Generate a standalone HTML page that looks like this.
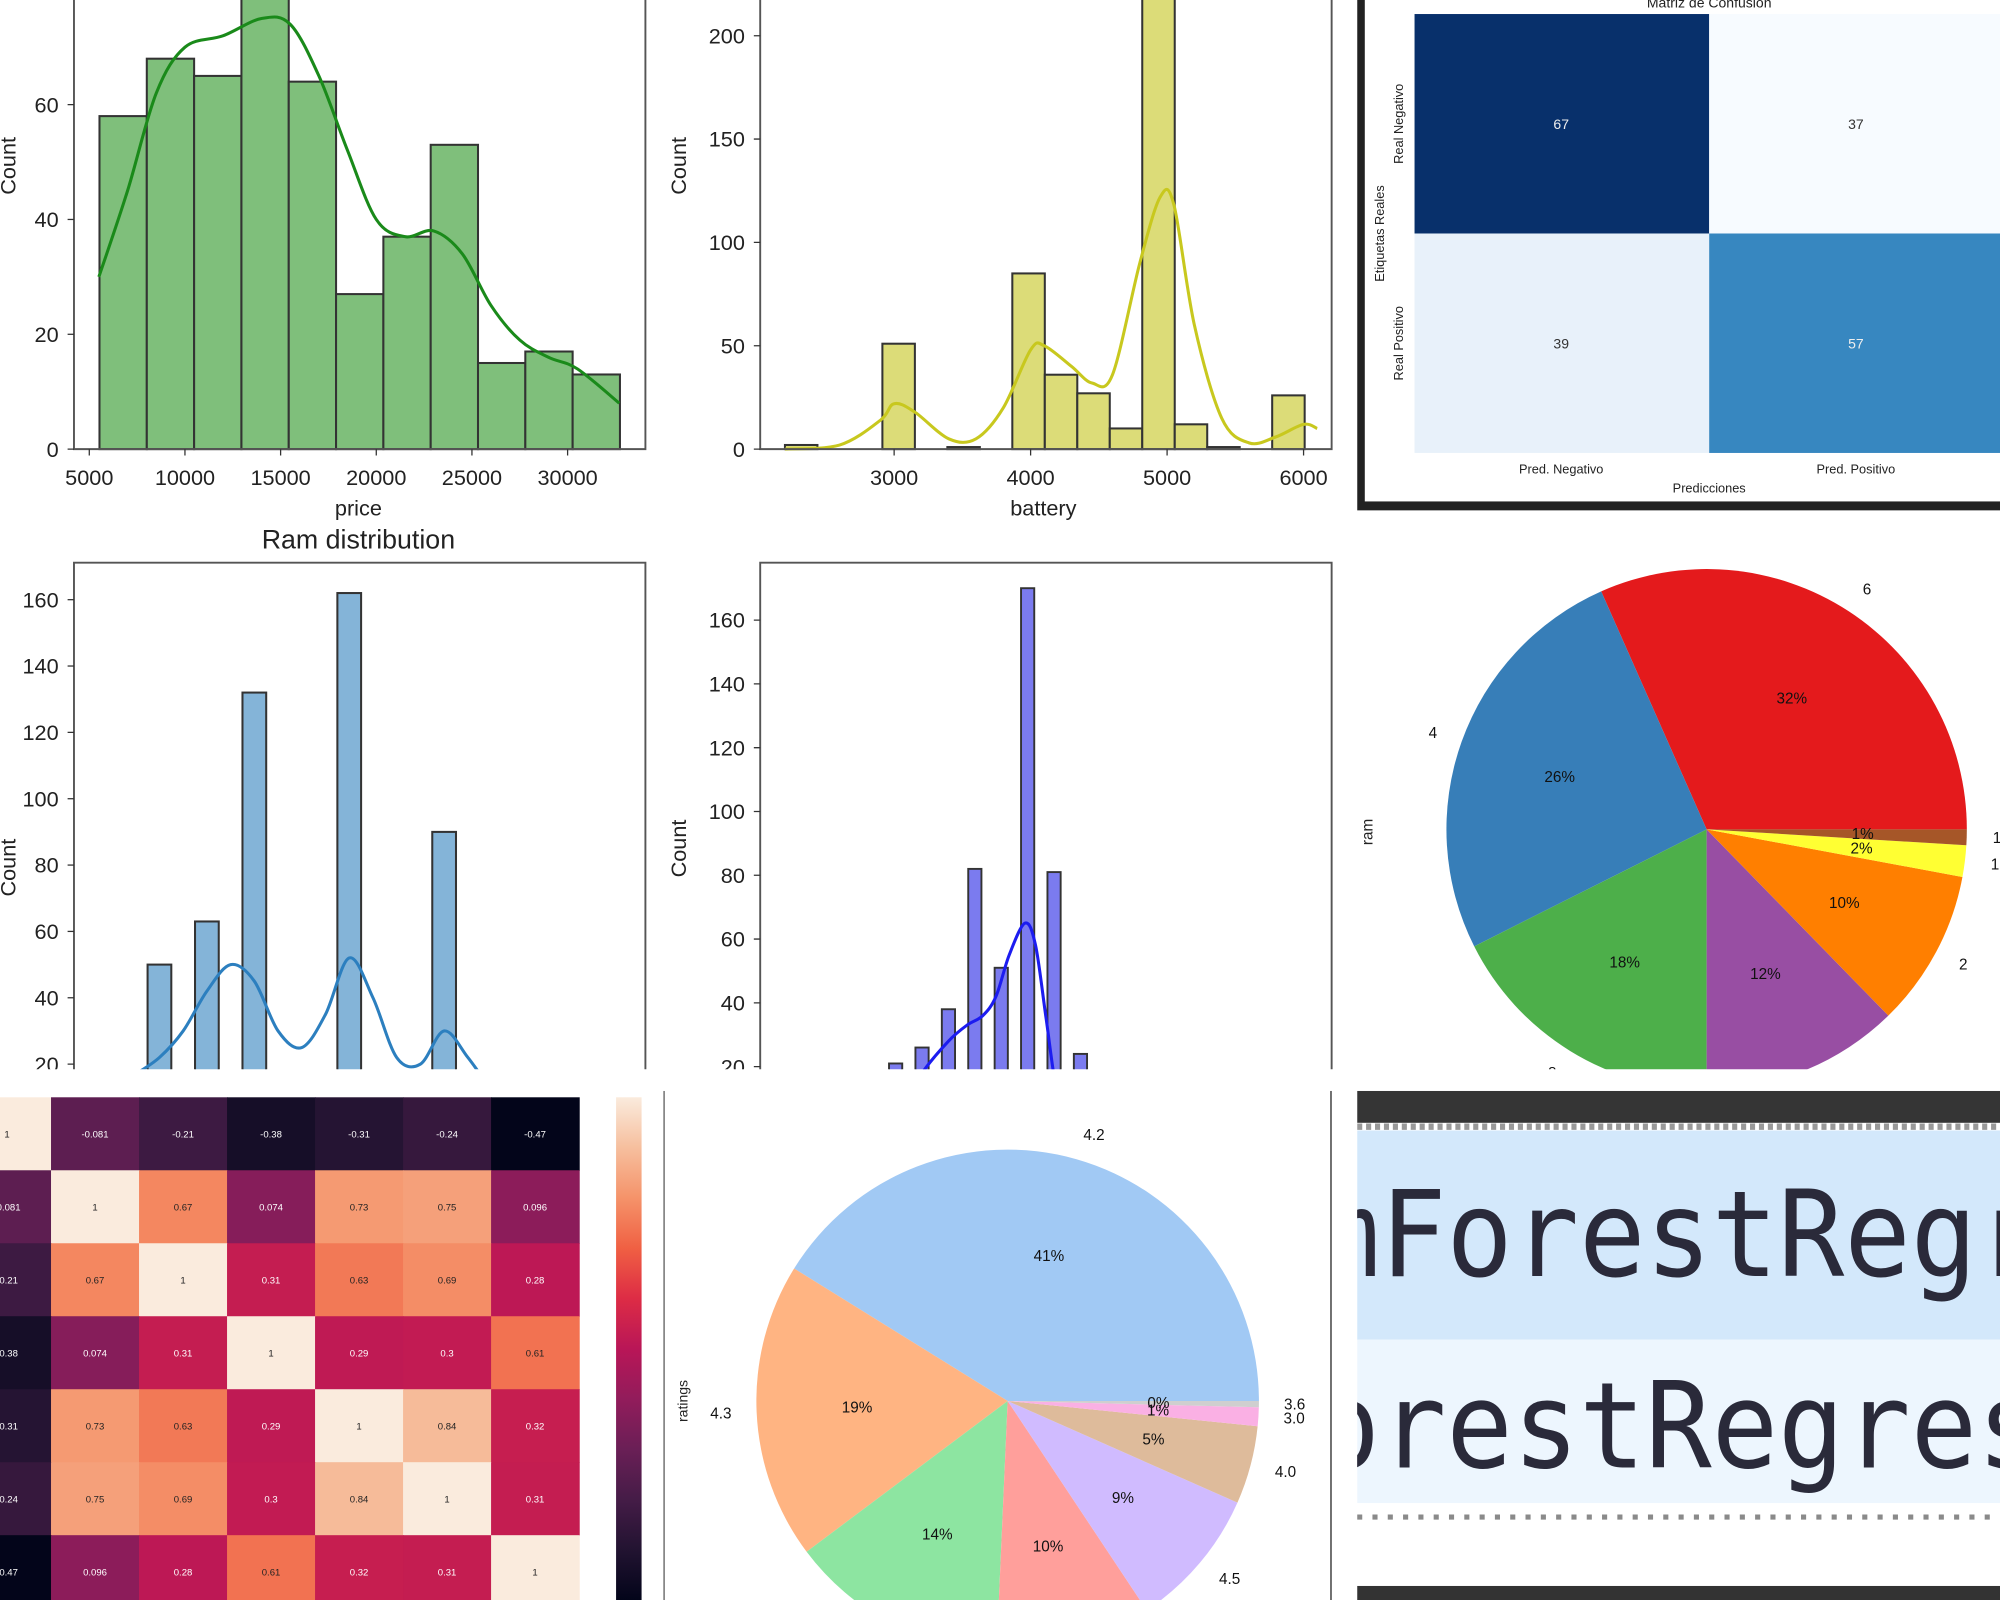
<!DOCTYPE html>
<html><head><meta charset="utf-8"><style>
html,body{margin:0;padding:0;background:#fff;width:2000px;height:1600px;overflow:hidden}
svg{display:block;font-family:"Liberation Sans","DejaVu Sans",sans-serif}
</style></head><body>
<svg id="s" width="2000" height="1600" viewBox="0 0 1568 1254" preserveAspectRatio="none" xmlns="http://www.w3.org/2000/svg">
<defs>
<clipPath id="c1"><rect x="0" y="0" width="522" height="838"/></clipPath>
<clipPath id="c2"><rect x="522" y="0" width="538" height="838"/></clipPath>
<clipPath id="c3"><rect x="1064" y="0" width="504" height="838"/></clipPath>
<clipPath id="c7"><rect x="0" y="855" width="521" height="399"/></clipPath>
<clipPath id="c8"><rect x="522" y="855" width="522" height="399"/></clipPath>
<clipPath id="c9"><rect x="1064" y="855" width="504" height="399"/></clipPath>
<linearGradient id="cbg" x1="0" y1="1" x2="0" y2="0"></linearGradient>
</defs>
<g id="root"></g>
</svg>
<script>
// ---- data ----
const priceBins=[5533,8006,10479,12952,15425,17898,20371,22844,25317,27790,30263];
const priceCounts=[58,68,65,80,64,27,37,53,15,17,13];
const priceBinWidth=2473;
const priceKdeX=[5500,7000,8500,10000,12000,14000,15500,17000,18500,20000,21500,23000,24500,26000,27500,29000,30500,32700];
const priceKdeY=[30,45,62,70,72,75,74,65,52,40,37,38,34,25,19,16,14,8];
const priceTicks=[5000,10000,15000,20000,25000,30000];
const priceYTicks=[0,20,40,60];

const batBinStart=2200, batBinWidth=238;
const batCounts=[2,0,0,51,0,1,0,85,36,27,10,220,12,1,0,26];
const batKdeX=[2200,2600,2900,3000,3150,3400,3600,3800,4000,4100,4300,4450,4600,4800,4950,5050,5200,5400,5600,5800,6000,6100];
const batKdeY=[0,2,14,22,18,5,5,20,48,50,40,32,36,90,122,118,60,15,3,6,12,10];
const batTicks=[3000,4000,5000,6000];
const batYTicks=[0,50,100,150,200];

const confValues=[[67,37],[39,57]];
const confColors=[["#08306b","#f7fbff"],["#e8f1fa","#3787c0"]];
const confXLabels=["Pred. Negativo","Pred. Positivo"];
const confYLabels=["Real Negativo","Real Positivo"];

const ramValues=[1,2,3,4,6,8,12];
const ramCounts=[5,50,63,132,162,90,10];
const ramKdeX=[1.5,2,2.5,3,3.5,4,4.5,5,5.5,6,6.5,7,7.5,8,8.5,9];
const ramKdeY=[17,22,30,42,50,45,30,25,35,52,40,22,20,30,22,12];
const ramYTicks=[20,40,60,80,100,120,140,160];

const p5Counts=[21,26,38,82,51,170,81,24];
const p5KdeX=[0,0.5,1,2,2.7,3.3,3.8,4.3,4.9,5.3,5.7,6.1,6.5];
const p5KdeY=[2,10,18,28,33,36,42,55,65,58,35,12,2];
const p5YTicks=[20,40,60,80,100,120,140,160];

const ramPieLabels=["6","4","8","3","2","12","1"];
const ramPieVals=[162,132,90,63,50,10,5];
const ramPieColors=["#e41a1c","#377eb8","#4daf4a","#984ea3","#ff7f00","#ffff33","#a65628"];

const corr=[
[1,-0.081,-0.21,-0.38,-0.31,-0.24,-0.47],
[-0.081,1,0.67,0.074,0.73,0.75,0.096],
[-0.21,0.67,1,0.31,0.63,0.69,0.28],
[-0.38,0.074,0.31,1,0.29,0.3,0.61],
[-0.31,0.73,0.63,0.29,1,0.84,0.32],
[-0.24,0.75,0.69,0.3,0.84,1,0.31],
[-0.47,0.096,0.28,0.61,0.32,0.31,1]];

const ratLabels=["4.2","4.3","4.1","4.4","4.5","4.0","3.0","3.6"];
const ratVals=[41,19,14,10,9,5,1.2,0.4];
const ratColors=["#a1c9f4","#ffb482","#8de5a1","#ff9f9b","#d0bbff","#debb9b","#fab0e4","#cfcfcf"];

// ---- helpers ----
const NS="http://www.w3.org/2000/svg";
const root=document.getElementById('root');
function mk(tag,attrs,parent,txt){const e=document.createElementNS(NS,tag);for(const k in attrs)e.setAttribute(k,attrs[k]);if(txt!==undefined)e.textContent=txt;(parent||root).appendChild(e);return e;}
function lin(d0,d1,r0,r1){return v=>r0+(v-d0)/(d1-d0)*(r1-r0);}
function grp(name,clip){const g=mk('g',clip?{'clip-path':'url(#'+clip+')'}:{});return g;}
function txt(g,x,y,s,size,name,extra){const t=mk('text',Object.assign({x:x,y:y,'font-size':size,fill:'#222'},extra||{}),g,s);return t;}
function pathLine(xs,ys,sx,sy){
const p=xs.map((v,i)=>[sx(v),sy(ys[i])]);let d='M'+p[0][0].toFixed(1)+','+p[0][1].toFixed(1);
for(let i=0;i<p.length-1;i++){const p0=p[Math.max(0,i-1)],p1=p[i],p2=p[i+1],p3=p[Math.min(p.length-1,i+2)];
const c1=[p1[0]+(p2[0]-p0[0])/6,p1[1]+(p2[1]-p0[1])/6],c2=[p2[0]-(p3[0]-p1[0])/6,p2[1]-(p3[1]-p1[1])/6];
d+='C'+c1[0].toFixed(1)+','+c1[1].toFixed(1)+' '+c2[0].toFixed(1)+','+c2[1].toFixed(1)+' '+p2[0].toFixed(1)+','+p2[1].toFixed(1);}
return d;}

// ---- panel 1: price ----
(function(){
const g=grp('price-histogram','c1');
const sx=lin(5000,10000,70,145), sy=lin(0,20,352,262);
priceBins.forEach((b,i)=>{const r=mk('rect',{x:sx(b),y:sy(priceCounts[i]),width:sx(b+priceBinWidth)-sx(b),height:sy(0)-sy(priceCounts[i]),fill:'#7fbf7b',stroke:'#333','stroke-width':1.6},g);});
const k=mk('path',{d:pathLine(priceKdeX,priceKdeY,sx,sy),fill:'none',stroke:'#1a8a1a','stroke-width':2.4},g);
mk('path',{d:'M58,-5V352H506V-5',fill:'none',stroke:'#555','stroke-width':1.5},g);
priceTicks.forEach(t=>{mk('line',{x1:sx(t),x2:sx(t),y1:352,y2:357,stroke:'#333'},g);txt(g,sx(t),380,t,17,'price-x-tick',{'text-anchor':'middle'});});
priceYTicks.forEach(t=>{mk('line',{x1:53,x2:58,y1:sy(t),y2:sy(t),stroke:'#333'},g);txt(g,46,sy(t)+6,t,17,'price-y-tick',{'text-anchor':'end'});});
txt(g,281,404,'price',17,'price-x-axis-title',{'text-anchor':'middle'});
txt(g,12,130,'Count',17,'price-y-axis-title',{'text-anchor':'middle',transform:'rotate(-90 12 130)'});
})();

// ---- panel 2: battery ----
(function(){
const g=grp('battery-histogram','c2');
const sx=lin(3000,4000,701,808), sy=lin(0,50,352,271);
batCounts.forEach((c,i)=>{if(c<=0)return;const b=batBinStart+i*batBinWidth;const r=mk('rect',{x:sx(b),y:sy(c),width:sx(b+batBinWidth)-sx(b),height:sy(0)-sy(c),fill:'#dcdc78',stroke:'#333','stroke-width':1.6},g);});
const k=mk('path',{d:pathLine(batKdeX,batKdeY,sx,sy),fill:'none',stroke:'#c8c81e','stroke-width':2.4},g);
mk('path',{d:'M596,-5V352H1044V-5',fill:'none',stroke:'#555','stroke-width':1.5},g);
batTicks.forEach(t=>{mk('line',{x1:sx(t),x2:sx(t),y1:352,y2:357,stroke:'#333'},g);txt(g,sx(t),380,t,17,'battery-x-tick',{'text-anchor':'middle'});});
batYTicks.forEach(t=>{mk('line',{x1:591,x2:596,y1:sy(t),y2:sy(t),stroke:'#333'},g);txt(g,584,sy(t)+6,t,17,'battery-y-tick',{'text-anchor':'end'});});
txt(g,818,404,'battery',17,'battery-x-axis-title',{'text-anchor':'middle'});
txt(g,538,130,'Count',17,'battery-y-axis-title',{'text-anchor':'middle',transform:'rotate(-90 538 130)'});
})();

// ---- panel 3: confusion matrix ----
(function(){
const g=grp('confusion-matrix','c3');
mk('rect',{x:1064,y:0,width:504,height:400,fill:'#222'},g);
mk('rect',{x:1070,y:0,width:498,height:393,fill:'#fff'},g);
const cx=[1109,1340], cy=[11,183], w=231, h=172;
confValues.forEach((row,i)=>row.forEach((v,j)=>{const r=mk('rect',{x:cx[j],y:cy[i],width:w,height:h,fill:confColors[i][j]},g);
txt(g,cx[j]+115,cy[i]+90,v,11,'confusion-value',{'text-anchor':'middle',fill:(v>50?'#eee':'#333')});}));
txt(g,1340,6,'Matriz de Confusión',11,'confusion-title',{'text-anchor':'middle'});
confXLabels.forEach((l,j)=>txt(g,cx[j]+115,371,l,10,'confusion-x-label',{'text-anchor':'middle'}));
confYLabels.forEach((l,i)=>txt(g,1100,cy[i]+86,l,10,'confusion-y-label',{'text-anchor':'middle',transform:'rotate(-90 1100 '+(cy[i]+86)+')'}));
txt(g,1340,386,'Predicciones',10,'confusion-x-axis-title',{'text-anchor':'middle'});
txt(g,1085,183,'Etiquetas Reales',10,'confusion-y-axis-title',{'text-anchor':'middle',transform:'rotate(-90 1085 183)'});
})();

// ---- panel 4: ram distribution ----
(function(){
const g=grp('ram-histogram','c1');
const sx=lin(2,3,125,162.2), sy=lin(20,40,834,782);
ramValues.forEach((v,i)=>{const c=ramCounts[i];const r=mk('rect',{x:sx(v-0.25),y:sy(c),width:sx(v+0.25)-sx(v-0.25),height:sy(0)-sy(c),fill:'#84b4d8',stroke:'#333','stroke-width':1.6},g);});
const k=mk('path',{d:pathLine(ramKdeX,ramKdeY,sx,sy),fill:'none',stroke:'#2c7fbf','stroke-width':2.4},g);
mk('path',{d:'M58,900V441H506V900',fill:'none',stroke:'#555','stroke-width':1.5},g);
ramYTicks.forEach(t=>{mk('line',{x1:53,x2:58,y1:sy(t),y2:sy(t),stroke:'#333'},g);txt(g,46,sy(t)+6,t,17,'ram-y-tick',{'text-anchor':'end'});});
txt(g,281,430,'Ram distribution',21,'ram-chart-title',{'text-anchor':'middle'});
txt(g,12,680,'Count',17,'ram-y-axis-title',{'text-anchor':'middle',transform:'rotate(-90 12 680)'});
})();

// ---- panel 5 ----
(function(){
const g=grp('blue-histogram','c2');
const sx=lin(0,1,697,717.7), sy=lin(20,40,836,786);
p5Counts.forEach((c,i)=>{const r=mk('rect',{x:sx(i),y:sy(c),width:sx(i+0.5)-sx(i),height:sy(0)-sy(c),fill:'#7b7bef',stroke:'#333','stroke-width':1.5},g);});
const k=mk('path',{d:pathLine(p5KdeX,p5KdeY,v=>sx(v+0.25),sy),fill:'none',stroke:'#1c1cf0','stroke-width':2.4},g);
mk('path',{d:'M596,900V441H1044V900',fill:'none',stroke:'#555','stroke-width':1.5},g);
p5YTicks.forEach(t=>{mk('line',{x1:591,x2:596,y1:sy(t),y2:sy(t),stroke:'#333'},g);txt(g,584,sy(t)+6,t,17,'blue-y-tick',{'text-anchor':'end'});});
txt(g,538,665,'Count',17,'blue-y-axis-title',{'text-anchor':'middle',transform:'rotate(-90 538 665)'});
})();

// ---- pie helper ----
function pie(g,cx,cy,r,vals,labels,colors,name,pfs,lfs){
const tot=vals.reduce((a,b)=>a+b,0);let a0=0;
vals.forEach((v,i)=>{const a1=a0+v/tot*2*Math.PI;const large=(a1-a0)>Math.PI?1:0;
const x0=cx+r*Math.cos(a0),y0=cy-r*Math.sin(a0),x1=cx+r*Math.cos(a1),y1=cy-r*Math.sin(a1);
const p=mk('path',{d:`M${cx},${cy}L${x0},${y0}A${r},${r} 0 ${large} 0 ${x1},${y1}Z`,fill:colors[i]},g);
const am=(a0+a1)/2;
txt(g,cx+0.6*r*Math.cos(am),cy-0.6*r*Math.sin(am)+4,Math.round(v/tot*100)+'%',pfs,name+'-pct',{'text-anchor':'middle',fill:'#111'});
const lx=cx+1.1*r*Math.cos(am),ly=cy-1.1*r*Math.sin(am)+4;
txt(g,lx,ly,labels[i],lfs,name+'-label',{'text-anchor':Math.cos(am)>=0?'start':'end',fill:'#111'});
a0=a1;});
}
(function(){const g=grp('ram-pie-chart','c3');pie(g,1338,650,204,ramPieVals,ramPieLabels,ramPieColors,'ram-pie',12,12);
txt(g,1076,652,'ram',12,'ram-pie-y-title',{'text-anchor':'middle',transform:'rotate(-90 1076 652)'});})();

// ---- panel 7: correlation heatmap ----
(function(){
const g=grp('correlation-heatmap','c7');
const stops=['#03051a','#221331','#451c47','#6a1f56','#921c5b','#b91657','#dd2c45','#f06043','#f5936a','#f6bf9e','#faebdd'];
function hx(c){return [1,3,5].map(i=>parseInt(c.substr(i,2),16));}
function rocket(t){t=Math.max(0,Math.min(1,t));const f=t*10,i=Math.min(9,Math.floor(f)),u=f-i;const a=hx(stops[i]),b=hx(stops[i+1]);return 'rgb('+a.map((v,k)=>Math.round(v+(b[k]-v)*u)).join(',')+')';}
const vmin=-0.47,vmax=1,cw=69,ch=57.2,x0=-29,y0=860;
corr.forEach((row,i)=>row.forEach((v,j)=>{const t=(v-vmin)/(vmax-vmin);const r=mk('rect',{x:x0+j*cw,y:y0+i*ch,width:cw+0.5,height:ch+0.5,fill:rocket(t)},g);
txt(g,x0+j*cw+cw/2,y0+i*ch+ch/2+3,v,7.5,'corr-value',{'text-anchor':'middle',fill:t>0.6?'#222':'#fff'});}));
const lg=document.getElementById('cbg');stops.forEach((c,i)=>mk('stop',{offset:i/10,'stop-color':c},lg));
const cb=mk('rect',{x:483,y:860,width:20,height:394,fill:'url(#cbg)'},g);
mk('line',{x1:521,x2:521,y1:855,y2:1254,stroke:'#222','stroke-width':1.5},g);
})();

// ---- panel 8: ratings pie ----
(function(){const g=grp('ratings-pie-chart','c8');pie(g,790,1098,197,ratVals,ratLabels,ratColors,'ratings-pie',12,12);
txt(g,539,1098,'ratings',11,'ratings-pie-y-title',{'text-anchor':'middle',transform:'rotate(-90 539 1098)'});
mk('line',{x1:1044,x2:1044,y1:855,y2:1254,stroke:'#222','stroke-width':2},g);})();

// ---- panel 9: code screenshot ----
(function(){
const g=grp('code-screenshot','c9');
mk('rect',{x:1064,y:855,width:504,height:399,fill:'#fff'},g);
mk('rect',{x:1064,y:855,width:504,height:25,fill:'#353535'},g);
mk('line',{x1:1064,x2:1568,y1:883,y2:883,stroke:'#999','stroke-width':5,'stroke-dasharray':'4 3'},g);
mk('rect',{x:1064,y:886,width:504,height:164,fill:'#d3e8fb'},g);
mk('rect',{x:1064,y:1050,width:504,height:128,fill:'#edf6fe'},g);
mk('line',{x1:1064,x2:1568,y1:1189,y2:1189,stroke:'#8a8a8a','stroke-width':4,'stroke-dasharray':'4 8'},g);
mk('rect',{x:1064,y:1243,width:504,height:11,fill:'#333'},g);
txt(g,1030,1000,'mForestRegr',94,'code-line-1',{fill:'#2a2a3a','font-family':'"DejaVu Sans Mono","Liberation Mono",monospace',textLength:572,lengthAdjust:'spacingAndGlyphs'});
txt(g,1030,1150,'orestRegres',94,'code-line-2',{fill:'#2a2a3a','font-family':'"DejaVu Sans Mono","Liberation Mono",monospace',textLength:572,lengthAdjust:'spacingAndGlyphs'});
})();
</script>
</body></html>
